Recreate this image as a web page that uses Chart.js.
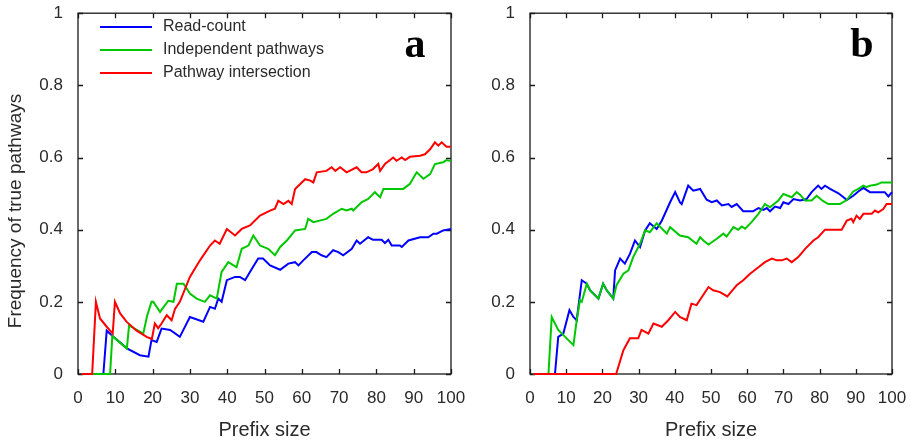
<!DOCTYPE html>
<html>
<head>
<meta charset="utf-8">
<script src="https://cdn.jsdelivr.net/npm/chart.js@4.4.1/dist/chart.umd.min.js"></script>
<style>
  html, body { margin: 0; background: #fff; }
  #wrap { position: relative; width: 915px; height: 443px; }
  #wrap canvas { position: absolute; left: 0; top: 0; }
</style>
</head>
<body>
<div id="wrap">
  <canvas id="chart-a" width="915" height="443"></canvas>
  <canvas id="chart-b" width="915" height="443"></canvas>
</div>
<script>
// ─── Data ─────────────────────────────────────────────────────────
const SERIES = ['Read-count', 'Independent pathways', 'Pathway intersection'];
const COLORS = ['#0000ff', '#00c800', '#ff0000'];
const X_TICKS = [0, 10, 20, 30, 40, 50, 60, 70, 80, 90, 100];
const Y_TICKS = [0, 0.2, 0.4, 0.6, 0.8, 1];

// panel a
const aReadX = [1, 6.8, 7.7, 9.5, 13.1, 16.6, 18.9, 19.7, 21.1, 22.4, 24.7, 27.3, 30, 33.6, 35.4, 36.7, 37.6, 38.5, 39.9, 42.1, 43.4, 44.8, 46.1, 48.3, 49.6, 51.5, 54.2, 56.4, 58.2, 59.1, 60.4, 62.7, 63.9, 65.3, 66.6, 68.4, 69.8, 71.1, 73.4, 74.7, 75.6, 77.8, 79.1, 81.4, 82.3, 83.2, 84.1, 86.3, 86.8, 88.6, 91.7, 93.9, 95.3, 96.2, 97.9, 100];
const aReadY = [0, 0, 0.12, 0.103, 0.071, 0.052, 0.048, 0.094, 0.089, 0.126, 0.122, 0.103, 0.158, 0.145, 0.186, 0.181, 0.209, 0.2, 0.26, 0.269, 0.269, 0.26, 0.283, 0.32, 0.32, 0.301, 0.289, 0.306, 0.31, 0.301, 0.315, 0.338, 0.338, 0.329, 0.324, 0.343, 0.338, 0.329, 0.347, 0.37, 0.361, 0.379, 0.372, 0.372, 0.363, 0.372, 0.356, 0.356, 0.352, 0.37, 0.379, 0.379, 0.389, 0.389, 0.398, 0.402];

const aIndepX = [1, 8.6, 9.2, 13.1, 13.7, 17.5, 18.5, 19.7, 20.2, 22, 24.2, 25.6, 26.5, 28.3, 30, 31.8, 34, 35.4, 37.2, 38.5, 40.3, 42.5, 43.9, 45.7, 47, 48.8, 51, 52.8, 54.2, 56, 58.2, 60.9, 61.7, 63.1, 66.6, 68.4, 70.7, 72, 73.4, 73.8, 76, 77.8, 79.6, 81, 81.9, 87.2, 89, 90.8, 92.6, 94.4, 95.7, 97.9, 98.8, 100];
const aIndepY = [0, 0, 0.105, 0.071, 0.135, 0.112, 0.16, 0.2, 0.2, 0.172, 0.203, 0.2, 0.25, 0.25, 0.223, 0.209, 0.2, 0.218, 0.209, 0.283, 0.31, 0.296, 0.347, 0.356, 0.384, 0.356, 0.347, 0.329, 0.352, 0.37, 0.398, 0.402, 0.43, 0.421, 0.43, 0.444, 0.458, 0.453, 0.458, 0.453, 0.476, 0.485, 0.504, 0.49, 0.513, 0.513, 0.527, 0.559, 0.541, 0.554, 0.582, 0.587, 0.593, 0.59];

const aInterX = [1, 3.8, 4.8, 5.9, 7.7, 9.3, 9.9, 11.3, 13, 15.7, 18.4, 19.8, 20.6, 21.5, 22.4, 23.8, 25.1, 26, 27.3, 30, 32.7, 35.4, 36.7, 38, 39.9, 42.1, 43.9, 46.1, 48.8, 51.5, 52.8, 53.7, 55.1, 56.4, 57.3, 58.2, 60.9, 62.3, 63.1, 64, 66.6, 68, 69, 70.3, 72, 74.7, 76, 77.3, 79.1, 80.5, 81, 82.3, 84.5, 85.4, 86.8, 87.7, 89, 91.7, 93, 94.4, 95.7, 96.6, 97.5, 98.8, 100];
const aInterY = [0, 0, 0.2, 0.154, 0.131, 0.112, 0.2, 0.168, 0.145, 0.12, 0.103, 0.097, 0.14, 0.127, 0.14, 0.163, 0.149, 0.18, 0.2, 0.269, 0.315, 0.356, 0.37, 0.361, 0.402, 0.384, 0.402, 0.412, 0.439, 0.453, 0.458, 0.48, 0.471, 0.48, 0.471, 0.513, 0.54, 0.536, 0.531, 0.559, 0.563, 0.573, 0.563, 0.573, 0.559, 0.573, 0.559, 0.559, 0.568, 0.582, 0.563, 0.582, 0.6, 0.591, 0.6, 0.593, 0.602, 0.605, 0.609, 0.623, 0.642, 0.633, 0.642, 0.63, 0.63];

// panel b
const bReadX = [1, 6.9, 7.8, 9.2, 10.9, 12, 12.9, 14.3, 15.7, 16.6, 18.9, 20.2, 21.2, 23, 23.5, 24.9, 26.2, 27.6, 29, 30.4, 31.8, 33.1, 35, 36.4, 38.7, 40.1, 41.4, 41.9, 43.7, 45.1, 47, 48.8, 50.2, 51.6, 53, 54.8, 55.7, 57.1, 58.9, 61.6, 63.1, 64.5, 65.4, 66.3, 67.7, 69.1, 70, 71.4, 72.8, 74.6, 76.4, 77.8, 79.6, 80.5, 81.5, 82.9, 83.8, 85.2, 86.6, 87.5, 89.3, 90.7, 92.1, 93.9, 98, 99, 100];
const bReadY = [0, 0, 0.103, 0.112, 0.177, 0.158, 0.149, 0.26, 0.25, 0.232, 0.209, 0.25, 0.232, 0.209, 0.287, 0.32, 0.306, 0.333, 0.37, 0.352, 0.398, 0.418, 0.402, 0.425, 0.476, 0.504, 0.476, 0.471, 0.522, 0.508, 0.513, 0.483, 0.476, 0.481, 0.467, 0.471, 0.463, 0.471, 0.451, 0.451, 0.46, 0.455, 0.46, 0.451, 0.464, 0.46, 0.476, 0.471, 0.485, 0.481, 0.485, 0.504, 0.522, 0.513, 0.522, 0.513, 0.508, 0.501, 0.49, 0.482, 0.494, 0.506, 0.516, 0.504, 0.504, 0.492, 0.504];

const bIndepX = [1, 5.1, 6, 7.8, 12, 12.9, 13.8, 14.3, 15.7, 16.6, 18.9, 20.2, 21.2, 23, 23.9, 25.8, 27.2, 28.5, 30.4, 31.8, 33.1, 35, 37.8, 38.7, 41.4, 43.7, 46, 47, 47.9, 49.3, 51.6, 53.4, 54.3, 56.2, 57.5, 58.5, 59.4, 61.2, 63.1, 64.9, 66.3, 68.6, 70, 72.3, 73.7, 74.6, 76, 77.8, 79.2, 81, 82.4, 85.6, 87.5, 89.3, 90.7, 92.1, 93, 93.9, 95.8, 97.1, 100];
const bIndepY = [0, 0, 0.158, 0.122, 0.08, 0.149, 0.204, 0.2, 0.25, 0.232, 0.209, 0.25, 0.232, 0.209, 0.246, 0.278, 0.287, 0.324, 0.361, 0.398, 0.393, 0.418, 0.389, 0.407, 0.384, 0.379, 0.361, 0.379, 0.37, 0.359, 0.375, 0.389, 0.381, 0.407, 0.4, 0.409, 0.403, 0.421, 0.444, 0.471, 0.462, 0.481, 0.499, 0.49, 0.504, 0.497, 0.481, 0.481, 0.494, 0.479, 0.471, 0.471, 0.482, 0.506, 0.513, 0.522, 0.518, 0.522, 0.525, 0.531, 0.531];

const bInterX = [1, 23.8, 25.8, 27.6, 29.9, 30.8, 32.7, 34.1, 36.4, 38.2, 40.1, 41.4, 43.3, 44.6, 46, 49.3, 50.6, 52.5, 54.5, 56.2, 57.1, 58.9, 60.8, 63.1, 64.9, 66.8, 68.2, 69.5, 70.9, 72.3, 74.1, 76, 78.3, 79.6, 81.5, 86.1, 87.5, 88.8, 89.3, 90.2, 91.1, 92.1, 94.4, 95.3, 96.2, 97.6, 98.5, 100];
const bInterY = [0, 0, 0.066, 0.099, 0.099, 0.122, 0.112, 0.14, 0.131, 0.149, 0.172, 0.158, 0.149, 0.195, 0.191, 0.241, 0.232, 0.227, 0.215, 0.235, 0.246, 0.26, 0.278, 0.296, 0.31, 0.32, 0.315, 0.315, 0.32, 0.31, 0.324, 0.347, 0.37, 0.379, 0.4, 0.4, 0.425, 0.43, 0.421, 0.439, 0.43, 0.444, 0.444, 0.453, 0.448, 0.457, 0.471, 0.471];

// ─── Helpers ──────────────────────────────────────────────────────
Chart.defaults.font.family = '"Liberation Sans", Arial, sans-serif';
Chart.defaults.color = '#2a2a2a';

const pts = (xs, ys) => xs.map((x, i) => ({ x, y: ys[i] }));

function mkSets(lists) {
  // red drawn on top, then green, then blue
  return lists.map(([xs, ys], i) => ({
    label: SERIES[i], data: pts(xs, ys),
    borderColor: COLORS[i], borderWidth: 2, pointRadius: 0, tension: 0,
    fill: false, order: 3 - i, clip: 2,
  }));
}

// frame with inward ticks on all four sides (under the lines),
// then panel letter, y title and optional legend on top
const framePlugin = {
  id: 'frame',
  beforeDatasetsDraw(chart) {
    const { ctx, chartArea: a, scales: { x, y } } = chart;
    ctx.save();
    ctx.strokeStyle = '#1a1a1a';
    ctx.lineWidth = 1.3;
    ctx.strokeRect(a.left, a.top, a.right - a.left, a.bottom - a.top);
    ctx.beginPath();
    const T = 5;
    X_TICKS.forEach(v => {
      const px = Math.round(x.getPixelForValue(v)) + 0.5;
      ctx.moveTo(px, a.bottom); ctx.lineTo(px, a.bottom - T);
      ctx.moveTo(px, a.top);    ctx.lineTo(px, a.top + T);
    });
    Y_TICKS.forEach(v => {
      const py = Math.round(y.getPixelForValue(v)) + 0.5;
      ctx.moveTo(a.left, py);  ctx.lineTo(a.left + T, py);
      ctx.moveTo(a.right, py); ctx.lineTo(a.right - T, py);
    });
    ctx.stroke();
    ctx.restore();
  },
  afterDraw(chart, _args, opts) {
    const { ctx } = chart;
    ctx.save();
    ctx.fillStyle = '#000';
    ctx.font = 'bold 42px "Liberation Serif", "Times New Roman", serif';
    ctx.textAlign = 'center';
    ctx.textBaseline = 'alphabetic';
    ctx.fillText(opts.letter, opts.letterX, 57);

    if (opts.yTitle) {
      ctx.save();
      ctx.translate(16, 211);
      ctx.rotate(-Math.PI / 2);
      ctx.font = '19px "Liberation Sans", Arial, sans-serif';
      ctx.fillStyle = '#2a2a2a';
      ctx.textBaseline = 'middle';
      ctx.fillText(opts.yTitle, 0, 0);
      ctx.restore();
    }

    if (opts.legend) {
      ctx.font = '16px "Liberation Sans", Arial, sans-serif';
      ctx.textAlign = 'left';
      ctx.textBaseline = 'middle';
      chart.data.datasets.forEach((ds, i) => {
        const ly = 27 + i * 23;
        ctx.strokeStyle = ds.borderColor;
        ctx.lineWidth = 2;
        ctx.beginPath(); ctx.moveTo(100, ly); ctx.lineTo(152, ly); ctx.stroke();
        ctx.fillStyle = '#2a2a2a';
        ctx.fillText(ds.label, 163, ly);
      });
    }
    ctx.restore();
  },
};

function mkChart(id, lists, o) {
  return new Chart(document.getElementById(id), {
    type: 'line',
    data: { datasets: mkSets(lists) },
    plugins: [framePlugin],
    options: {
      responsive: false, animation: false, devicePixelRatio: 1,
      layout: { padding: { top: 12, bottom: 0, left: o.padLeft, right: o.padRight } },
      plugins: {
        legend: { display: false }, tooltip: { enabled: false },
        frame: { letter: o.letter, letterX: o.letterX, legend: o.legend, yTitle: o.yTitle },
      },
      scales: {
        x: {
          type: 'linear', min: 0, max: 100,
          afterBuildTicks: s => { s.ticks = X_TICKS.map(v => ({ value: v })); },
          ticks: { padding: 2, font: { size: 17 }, maxRotation: 0 },
          grid: { display: false, drawTicks: true, tickLength: 12 }, border: { display: false },
          title: { display: true, text: 'Prefix size', font: { size: 20 }, padding: { top: 0, bottom: 1 } },
          afterFit: s => { s.height = 69; },
        },
        y: {
          type: 'linear', min: 0, max: 1,
          afterBuildTicks: s => { s.ticks = Y_TICKS.map(v => ({ value: v })); },
          ticks: { padding: 3, font: { size: 17 }, callback: v => String(+v.toFixed(1)) },
          grid: { display: false, drawTicks: true, tickLength: 12 }, border: { display: false },
          afterFit: s => { s.width = o.yWidth; },
        },
      },
    },
  });
}

mkChart('chart-a', [[aReadX, aReadY], [aIndepX, aIndepY], [aInterX, aInterY]],
  { letter: 'a', letterX: 415, legend: true, yTitle: 'Frequency of true pathways', padLeft: 0, yWidth: 78, padRight: 915 - 451 });
mkChart('chart-b', [[bReadX, bReadY], [bIndepX, bIndepY], [bInterX, bInterY]],
  { letter: 'b', letterX: 862, legend: false, yTitle: '', padLeft: 470, yWidth: 60, padRight: 915 - 892 });
</script>
</body>
</html>
